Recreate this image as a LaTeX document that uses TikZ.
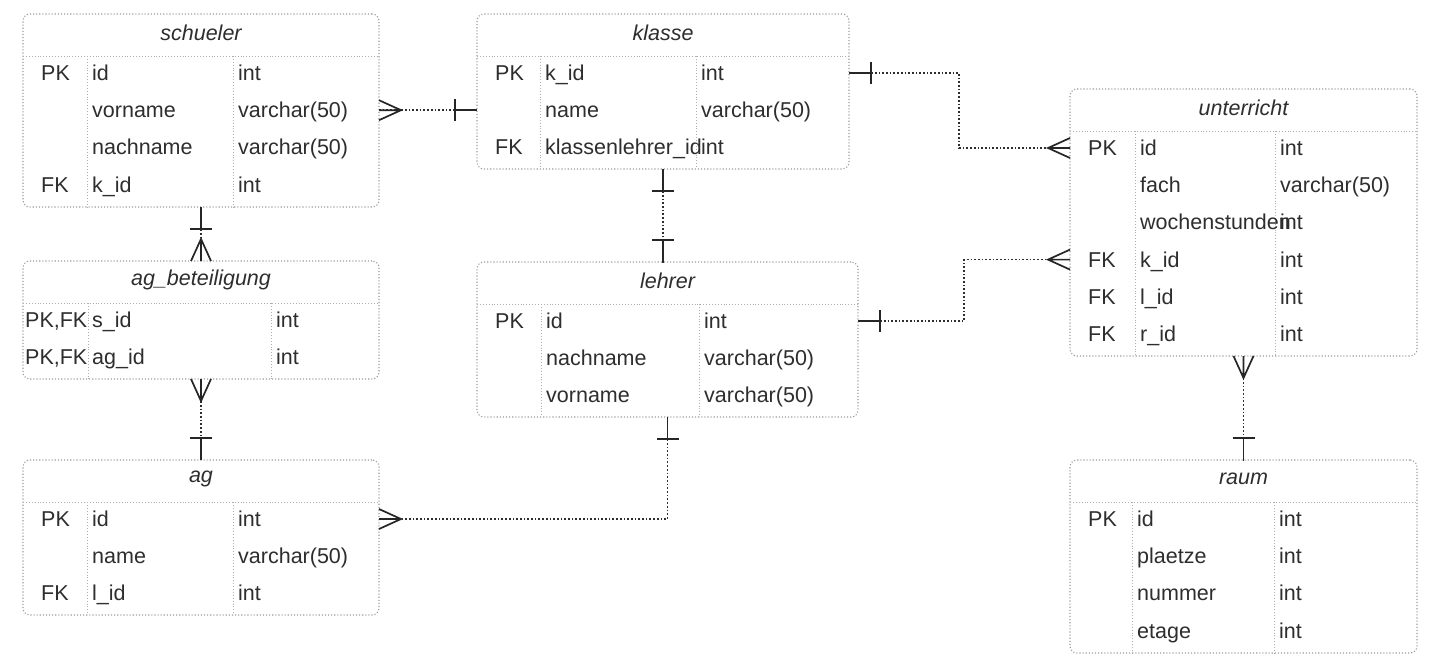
\documentclass[tikz,border=0pt]{standalone}
\usepackage{fontspec}
\setmainfont{Liberation Sans}
\usetikzlibrary{calc}

\definecolor{txtgray}{HTML}{2E2E2E}
\definecolor{framegray}{HTML}{9A9A9A}
\definecolor{linkgray}{HTML}{2E2E2E}

\tikzset{
    pics/onebar/.style={code={\draw[tip] (0,0) -- (22,0) (22,-11) -- (22,11);}},
    pics/crowfoot/.style={code={\draw[tip] (0,-10) -- (22,0) -- (0,10) (0,0) -- (22,0);}}
}

\begin{document}
\begin{tikzpicture}[
    x=1pt, y=-1pt,
    font=\fontsize{21.5}{24}\selectfont, text=txtgray,
    tbl/.style={draw=framegray, dotted, line width=1.1pt, rounded corners=7pt, inner sep=0pt, outer sep=0pt, anchor=north west},
    grid/.style={draw=framegray!80, dotted, line width=0.9pt},
    title/.style={font=\fontsize{21.5}{24}\selectfont\itshape},
    cell/.style={anchor=west, inner sep=0pt, text height=16pt, text depth=1pt},
    rel/.style={draw=linkgray, dotted, line width=1.7pt},
    tip/.style={draw=black!85, solid, line width=1.7pt}
]

\fill[white] (0,0) rectangle (1442,671);
\useasboundingbox (0,0) rectangle (1442,671);

% schueler
\node (schueler) [tbl, minimum width=356pt, minimum height=193pt] at (23,14) {};
\node (schueler-name) [title] at ($(schueler.north)+(0,19)$) {schueler};
\draw[grid] ($(schueler.north west)+(0,42)$) -- ++(356,0);
\draw[grid] ($(schueler.north west)+(64,42)$) -- ($(schueler.south west)+(64,0)$);
\draw[grid] ($(schueler.north west)+(210,42)$) -- ($(schueler.south west)+(210,0)$);
\foreach \k/\f/\t [count=\i] in {PK/id/int, /vorname/varchar(50), /nachname/varchar(50), FK/k\_id/int} {
    \node (schueler-k\i) [cell] at ($(schueler.north west)+(18,{21.8+37.2*\i})$) {\k};
    \node (schueler-f\i) [cell] at ($(schueler.north west)+(69,{21.8+37.2*\i})$) {\f};
    \node (schueler-t\i) [cell] at ($(schueler.north west)+(215,{21.8+37.2*\i})$) {\t};
}

% klasse
\node (klasse) [tbl, minimum width=372pt, minimum height=155pt] at (477,14) {};
\node (klasse-name) [title] at ($(klasse.north)+(0,19)$) {klasse};
\draw[grid] ($(klasse.north west)+(0,42)$) -- ++(372,0);
\draw[grid] ($(klasse.north west)+(63,42)$) -- ($(klasse.south west)+(63,0)$);
\draw[grid] ($(klasse.north west)+(219,42)$) -- ($(klasse.south west)+(219,0)$);
\foreach \k/\f/\t [count=\i] in {PK/k\_id/int, /name/varchar(50), FK/klassenlehrer\_id/int} {
    \node (klasse-k\i) [cell] at ($(klasse.north west)+(18,{21.8+37.2*\i})$) {\k};
    \node (klasse-f\i) [cell] at ($(klasse.north west)+(68,{21.8+37.2*\i})$) {\f};
    \node (klasse-t\i) [cell] at ($(klasse.north west)+(224,{21.8+37.2*\i})$) {\t};
}

% unterricht
\node (unterricht) [tbl, minimum width=347pt, minimum height=267pt] at (1070,89) {};
\node (unterricht-name) [title] at ($(unterricht.north)+(0,19)$) {unterricht};
\draw[grid] ($(unterricht.north west)+(0,42)$) -- ++(347,0);
\draw[grid] ($(unterricht.north west)+(65,42)$) -- ($(unterricht.south west)+(65,0)$);
\draw[grid] ($(unterricht.north west)+(205,42)$) -- ($(unterricht.south west)+(205,0)$);
\foreach \k/\f/\t [count=\i] in {PK/id/int, /fach/varchar(50), /wochenstunden/int, FK/k\_id/int, FK/l\_id/int, FK/r\_id/int} {
    \node (unterricht-k\i) [cell] at ($(unterricht.north west)+(18,{21.8+37.2*\i})$) {\k};
    \node (unterricht-f\i) [cell] at ($(unterricht.north west)+(70,{21.8+37.2*\i})$) {\f};
    \node (unterricht-t\i) [cell] at ($(unterricht.north west)+(210,{21.8+37.2*\i})$) {\t};
}

% ag_beteiligung
\node (agbet) [tbl, minimum width=356pt, minimum height=118pt] at (23,261) {};
\node (agbet-name) [title] at ($(agbet.north)+(0,19)$) {ag\_beteiligung};
\draw[grid] ($(agbet.north west)+(0,42)$) -- ++(356,0);
\draw[grid] ($(agbet.north west)+(65,42)$) -- ($(agbet.south west)+(65,0)$);
\draw[grid] ($(agbet.north west)+(248,42)$) -- ($(agbet.south west)+(248,0)$);
\foreach \k/\f/\t [count=\i] in {{PK,FK}/s\_id/int, {PK,FK}/ag\_id/int} {
    \node (agbet-k\i) [cell] at ($(agbet.north west)+(2,{21.8+37.2*\i})$) {\k};
    \node (agbet-f\i) [cell] at ($(agbet.north west)+(69,{21.8+37.2*\i})$) {\f};
    \node (agbet-t\i) [cell] at ($(agbet.north west)+(253,{21.8+37.2*\i})$) {\t};
}

% lehrer
\node (lehrer) [tbl, minimum width=381pt, minimum height=155pt] at (477,262) {};
\node (lehrer-name) [title] at ($(lehrer.north)+(0,19)$) {lehrer};
\draw[grid] ($(lehrer.north west)+(0,42)$) -- ++(381,0);
\draw[grid] ($(lehrer.north west)+(64,42)$) -- ($(lehrer.south west)+(64,0)$);
\draw[grid] ($(lehrer.north west)+(222,42)$) -- ($(lehrer.south west)+(222,0)$);
\foreach \k/\f/\t [count=\i] in {PK/id/int, /nachname/varchar(50), /vorname/varchar(50)} {
    \node (lehrer-k\i) [cell] at ($(lehrer.north west)+(18,{21.8+37.2*\i})$) {\k};
    \node (lehrer-f\i) [cell] at ($(lehrer.north west)+(69,{21.8+37.2*\i})$) {\f};
    \node (lehrer-t\i) [cell] at ($(lehrer.north west)+(227,{21.8+37.2*\i})$) {\t};
}

% ag
\node (ag) [tbl, minimum width=356pt, minimum height=155pt] at (23,460) {};
\node (ag-name) [title] at ($(ag.north)+(0,19)$) {ag};
\draw[grid] ($(ag.north west)+(0,42)$) -- ++(356,0);
\draw[grid] ($(ag.north west)+(64,42)$) -- ($(ag.south west)+(64,0)$);
\draw[grid] ($(ag.north west)+(210,42)$) -- ($(ag.south west)+(210,0)$);
\foreach \k/\f/\t [count=\i] in {PK/id/int, /name/varchar(50), FK/l\_id/int} {
    \node (ag-k\i) [cell] at ($(ag.north west)+(18,{21.8+37.2*\i})$) {\k};
    \node (ag-f\i) [cell] at ($(ag.north west)+(69,{21.8+37.2*\i})$) {\f};
    \node (ag-t\i) [cell] at ($(ag.north west)+(215,{21.8+37.2*\i})$) {\t};
}

% raum
\node (raum) [tbl, minimum width=347pt, minimum height=193pt] at (1070,460) {};
\node (raum-name) [title] at ($(raum.north)+(0,19)$) {raum};
\draw[grid] ($(raum.north west)+(0,42)$) -- ++(347,0);
\draw[grid] ($(raum.north west)+(62,42)$) -- ($(raum.south west)+(62,0)$);
\draw[grid] ($(raum.north west)+(204,42)$) -- ($(raum.south west)+(204,0)$);
\foreach \k/\f/\t [count=\i] in {PK/id/int, /plaetze/int, /nummer/int, /etage/int} {
    \node (raum-k\i) [cell] at ($(raum.north west)+(18,{21.8+37.2*\i})$) {\k};
    \node (raum-f\i) [cell] at ($(raum.north west)+(67,{21.8+37.2*\i})$) {\f};
    \node (raum-t\i) [cell] at ($(raum.north west)+(209,{21.8+37.2*\i})$) {\t};
}

% relations
\draw[rel] (schueler.east |- schueler-f2) -- (klasse.west |- klasse-f2);
\draw[rel] (klasse.east |- klasse-f1) -- ++(110,0) |- (unterricht.west |- unterricht-f1);
\draw[rel] (lehrer.east |- lehrer-f1) -- ++(106,0) |- (unterricht.west |- unterricht-f4);
\draw[rel] (schueler.south) -- (agbet.north);
\draw[rel] (agbet.south) -- (ag.north);
\draw[rel] (klasse.south) -- (klasse.south |- lehrer.north);
\draw[rel] (lehrer.south) |- (ag.east |- ag-f1);
\draw[rel] (unterricht.south) -- (raum.north);

% cardinalities
\pic at (schueler.east |- schueler-f2) {crowfoot};
\pic[rotate=180] at (klasse.west |- klasse-f2) {onebar};
\pic at (klasse.east |- klasse-f1) {onebar};
\pic[rotate=180] at (unterricht.west |- unterricht-f1) {crowfoot};
\pic at (lehrer.east |- lehrer-f1) {onebar};
\pic[rotate=180] at (unterricht.west |- unterricht-f4) {crowfoot};
\pic[rotate=-90] at (schueler.south) {onebar};
\pic[rotate=90] at (agbet.north) {crowfoot};
\pic[rotate=-90] at (agbet.south) {crowfoot};
\pic[rotate=90] at (ag.north) {onebar};
\pic[rotate=-90] at (klasse.south) {onebar};
\pic[rotate=90] at (klasse.south |- lehrer.north) {onebar};
\pic[rotate=-90] at (lehrer.south) {onebar};
\pic at (ag.east |- ag-f1) {crowfoot};
\pic[rotate=-90] at (unterricht.south) {crowfoot};
\pic[rotate=90] at (raum.north) {onebar};

\end{tikzpicture}
\end{document}
